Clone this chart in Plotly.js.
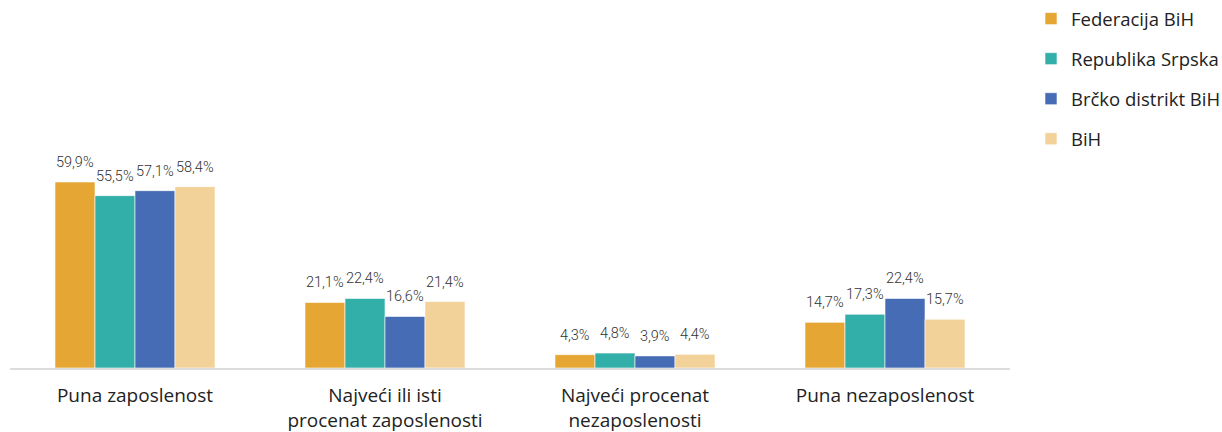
<!DOCTYPE html>
<html>
<head>
<meta charset="utf-8">
<script src="https://cdn.plot.ly/plotly-3.0.1.min.js"></script>
<style>html,body{margin:0;padding:0;background:#fff;}#chart{width:1222px;height:432px;}</style>
</head>
<body>
<div id="chart"></div>
<script>
const categories = ["Puna zaposlenost", "Najveći ili isti<br>procenat zaposlenosti", "Najveći procenat<br>nezaposlenosti", "Puna nezaposlenost"];
const seriesNames = ["Federacija BiH", "Republika Srpska", "Brčko distrikt BiH", "BiH"];
const federacija = [59.9, 21.1, 4.3, 14.7];
const republika = [55.5, 22.4, 4.8, 17.3];
const brcko = [57.1, 16.6, 3.9, 22.4];
const bih = [58.4, 21.4, 4.4, 15.7];
const colors = ["#E5A633", "#33AFA9", "#456CB4", "#F2D299"];

const allSeries = [federacija, republika, brcko, bih];
const traces = allSeries.map((vals, i) => ({
  type: "bar",
  name: seriesNames[i],
  x: categories,
  y: vals,
  marker: {color: colors[i], line: {color: "#ffffff", width: 0.6}},
  legendgroup: "g" + i,
  hoverinfo: "none"
}));

// value labels placed via data coordinates, shifted to each bar of the group
const plotWidth = 1000;
const catStep = plotWidth / categories.length;
const bargap = 0.36;
const barW = catStep * (1 - bargap) / allSeries.length;
const annotations = [];
allSeries.forEach((vals, i) => {
  vals.forEach((v, j) => {
    annotations.push({
      x: categories[j], y: v, xref: "x", yref: "y",
      text: v.toFixed(1).replace(".", ",") + "%",
      showarrow: false, yanchor: "bottom", xanchor: "center",
      xshift: (i - (allSeries.length - 1) / 2) * barW,
      yshift: 9,
      font: {family: "Roboto", size: 14.5, color: "#333", weight: 300}
    });
  });
});

const layout = {
  width: 1222, height: 432,
  margin: {l: 10, r: 212, t: 32, b: 64, autoexpand: false},
  paper_bgcolor: "#fff", plot_bgcolor: "#fff",
  barmode: "group",
  bargap: bargap,
  bargroupgap: 0,
  xaxis: {
    showline: true, linecolor: "#dcdcdc", linewidth: 2,
    ticks: "", showgrid: false, zeroline: false,
    tickfont: {family: "Open Sans", size: 19, color: "#222"},
    ticklabelstandoff: 9,
    fixedrange: true
  },
  yaxis: {
    range: [0, 108.2], visible: false, showgrid: false, zeroline: false, fixedrange: true
  },
  annotations: annotations,
  showlegend: true,
  legend: {
    x: 1.021, y: 1.095, xanchor: "left", yanchor: "top",
    font: {family: "Open Sans", size: 18.5, color: "#222"},
    traceorder: "grouped", tracegroupgap: 13,
    itemwidth: 30
  },
  font: {family: "Open Sans"}
};

Plotly.newPlot("chart", traces, layout, {staticPlot: true, displayModeBar: false});
</script>
</body>
</html>
